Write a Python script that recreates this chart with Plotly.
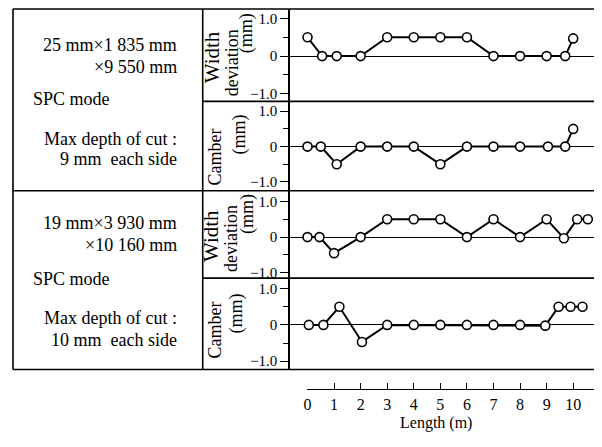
import plotly.graph_objects as go

# The page body adds an 8px margin; the figure is sized so it ends at the window edge.
OFF = 8
W, H = 602 - OFF, 447 - OFF

# ---- data ----
x_wd1 = [0, 0.55, 1.1, 2, 3, 4, 5, 6, 7, 8, 9, 9.7, 10]
width_dev_1 = [0.5, 0, 0, 0, 0.5, 0.5, 0.5, 0.5, 0, 0, 0, 0, 0.47]
x_cb1 = [0, 0.5, 1.1, 2, 3, 4, 5, 6, 7, 8, 9.05, 9.7, 10]
camber_1 = [0, 0, -0.5, 0, 0, 0, -0.5, 0, 0, 0, 0, 0, 0.5]
x_wd2 = [0, 0.45, 1.0, 2, 3, 4, 5, 6, 7, 8, 9, 9.65, 10.15, 10.55]
width_dev_2 = [0, 0, -0.45, 0, 0.5, 0.5, 0.5, 0, 0.5, 0, 0.5, -0.03, 0.5, 0.5]
x_cb2 = [0.05, 0.6, 1.2, 2.05, 3, 4, 5, 6, 7, 8, 8.95, 9.45, 9.9, 10.35]
camber_2 = [0, 0, 0.5, -0.47, 0, 0, 0, 0, 0, 0, -0.02, 0.5, 0.5, 0.5]

length_ticks = list(range(0, 11))
y_major = [-1.0, 0, 1.0]
y_major_text = ["\u22121.0", "0", "1.0"]
y_minor = [-0.5, 0.5]

case1_text = ["25 mm\u00d71 835 mm", "\u00d79 550 mm", "SPC mode", "Max depth of cut :", "9 mm  each side"]
case2_text = ["19 mm\u00d73 930 mm", "\u00d710 160 mm", "SPC mode", "Max depth of cut :", "10 mm  each side"]

SERIF = "Liberation Serif, Times New Roman, serif"


def fx(px):
    return (px - OFF) / W


def fy(py):
    return 1 - (py - OFF) / H


fig = go.Figure()

series = [(x_wd1, width_dev_1), (x_cb1, camber_1), (x_wd2, width_dev_2), (x_cb2, camber_2)]
for i, (xs, ys) in enumerate(series):
    n = "" if i == 0 else str(i + 1)
    fig.add_trace(go.Scatter(
        x=xs, y=ys, mode="lines+markers", xaxis="x" + n, yaxis="y" + n,
        line=dict(color="black", width=2),
        marker=dict(symbol="circle", size=9, color="white", line=dict(color="black", width=1.6)),
        hoverinfo="skip", showlegend=False, cliponaxis=False))

# invisible carrier so the separate length axis gets drawn
fig.add_trace(go.Scatter(x=length_ticks, y=[0] * len(length_ticks), mode="markers",
                         xaxis="x5", yaxis="y5", marker=dict(opacity=0),
                         hoverinfo="skip", showlegend=False))

# panel pixel bounds (top, bottom) in reference coordinates
panels = [(9, 102), (102, 192), (192, 280), (280, 372)]
yranges = [[-1.2, 1.25], [-1.25, 1.28], [-1.15, 1.3], [-1.23, 1.29]]
xrange_panels = [(288 - 305.5) / 26.75, (602 - 305.5) / 26.75]

layout = dict(
    width=W, height=H, margin=dict(l=0, r=0, t=0, b=0),
    paper_bgcolor="white", plot_bgcolor="rgba(0,0,0,0)",
    showlegend=False,
    font=dict(family=SERIF, color="black"),
)

for i, ((top, bot), yr) in enumerate(zip(panels, yranges)):
    n = "" if i == 0 else str(i + 1)
    layout["xaxis" + n] = dict(
        domain=[fx(288), 1], range=xrange_panels, anchor="y" + n,
        showline=False, showgrid=False, zeroline=False, ticks="", showticklabels=False,
        fixedrange=True)
    layout["yaxis" + n] = dict(
        domain=[fy(bot), fy(top)], range=yr, anchor="x" + n,
        showline=True, linecolor="black", linewidth=1.5, mirror=False,
        showgrid=False, zeroline=True, zerolinecolor="black", zerolinewidth=1,
        ticks="outside", ticklen=8, tickwidth=1.2, tickcolor="black",
        tickvals=y_major, ticktext=y_major_text,
        minor=dict(tickvals=y_minor, ticks="outside", ticklen=5, tickwidth=1.2,
                   tickcolor="black", showgrid=False),
        tickfont=dict(family=SERIF, size=15, color="black"),
        fixedrange=True)

# separate length axis below the frame
layout["xaxis5"] = dict(
    domain=[fx(305.5), fx(597)], range=[0, (597 - 305.5) / 26.75], anchor="y5",
    showline=True, linecolor="black", linewidth=1.3,
    ticks="inside", ticklen=6, tickwidth=1.3, tickcolor="black",
    tickvals=length_ticks, ticktext=[str(v) for v in length_ticks],
    tickfont=dict(family=SERIF, size=16, color="black"),
    showgrid=False, zeroline=False,
    fixedrange=True)
layout["yaxis5"] = dict(domain=[fy(392), fy(386)], range=[0, 1], anchor="x5", visible=False,
                        fixedrange=True)

fig.update_layout(**layout)


# frame lines
def hline(py, x0, x1, w=1.6):
    fig.add_shape(type="line", xref="paper", yref="paper", x0=fx(x0), x1=fx(x1), y0=fy(py), y1=fy(py),
                  line=dict(color="black", width=w))


def vline(px, y0, y1, w=1.6):
    fig.add_shape(type="line", xref="paper", yref="paper", x0=fx(px), x1=fx(px), y0=fy(y0), y1=fy(y1),
                  line=dict(color="black", width=w))


hline(9, 9, 602)
hline(192, 9, 602)
hline(372, 9, 602)
hline(102, 200, 602)
hline(280, 200, 602)
vline(9, 9, 372)
vline(200, 9, 372)


# left-hand descriptions
def txt(s, px, py, anchor, size=18):
    fig.add_annotation(text=s, xref="paper", yref="paper", x=fx(px), y=fy(py),
                       xanchor=anchor, yanchor="middle", showarrow=False,
                       font=dict(family=SERIF, size=size, color="black"))


ys1 = [45, 67, 100, 140, 160]
ys2 = [224, 247, 281, 320, 342]
for texts, ys in [(case1_text, ys1), (case2_text, ys2)]:
    for j, (s, py) in enumerate(zip(texts, ys)):
        if j == 2:
            txt(s, 27, py, "left")
        else:
            txt(s, 176, py, "right")

# x axis title
fig.add_annotation(text="Length (m)", xref="paper", yref="paper", x=fx(435), y=fy(426),
                   xanchor="center", yanchor="middle", showarrow=False,
                   font=dict(family=SERIF, size=16, color="black"))


# rotated axis titles
def vtxt(s, px, py, size=18):
    fig.add_annotation(text=s, xref="paper", yref="paper", x=fx(px), y=fy(py),
                       xanchor="center", yanchor="middle", textangle=-90, showarrow=False,
                       font=dict(family=SERIF, size=size, color="black"))


vtxt("Width", 209, 58, 21)
vtxt("deviation", 229, 63)
vtxt("(mm)", 244, 33)
vtxt("Camber", 212, 158)
vtxt("(mm)", 237, 135)
vtxt("Width", 209, 238, 21)
vtxt("deviation", 229, 240)
vtxt("(mm)", 245, 215)
vtxt("Camber", 212, 332)
vtxt("(mm)", 234, 315)

fig.write_html("out.html")
